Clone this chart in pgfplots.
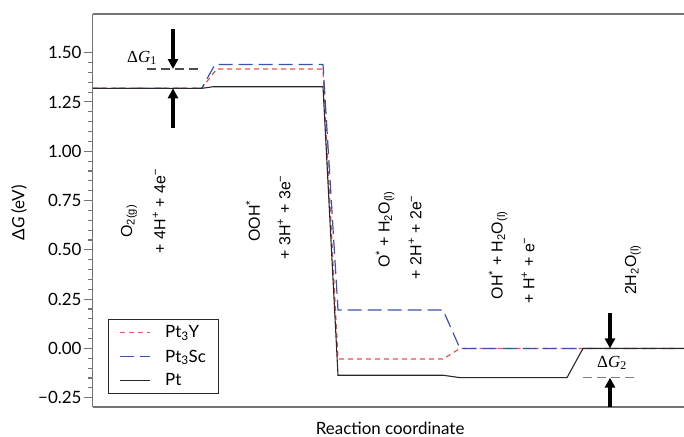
\documentclass[border=0pt]{standalone}
\usepackage{fontspec}
\setmainfont{Lato}
\newfontfamily\arial{Liberation Sans}
\newfontfamily\tnr{Liberation Serif}
\usepackage{pgfplots}
\pgfplotsset{compat=1.18}
\usetikzlibrary{arrows.meta}
\definecolor{cred}{RGB}{232,82,80}
\definecolor{cblue}{RGB}{62,80,168}
\definecolor{cblack}{RGB}{40,40,40}
\definecolor{axgray}{RGB}{115,115,115}
\newcommand{\bigf}{\fontsize{17}{20}\selectfont}
\newcommand{\catf}{\arial\fontsize{16}{19}\selectfont}
\begin{document}
\begin{tikzpicture}
\begin{axis}[
  name=ax, at={(0,0)}, anchor=south west,
  scale only axis, width=591.3bp, height=393bp,
  xmin=92.7, xmax=684, ymin=-0.297, ymax=1.696,
  clip=false,
  axis line style={draw=none},
  xtick=\empty,
  ytick={-0.25,0,0.25,0.5,0.75,1,1.25,1.5},
  yticklabels={−0.25,0.00,0.25,0.50,0.75,1.00,1.25,1.50},
  minor y tick num=4,
  tick align=outside, ytick pos=left,
  major tick length=9bp, minor tick length=4.5bp,
  every tick/.style={axgray, line width=1.1bp},
  yticklabel style={font=\bigf, inner sep=2bp},
  every axis y label/.style={at={(axis description cs:-0.1246,0.494)}, rotate=90, anchor=center, font=\bigf},
  every axis x label/.style={at={(axis description cs:0.503,-0.0534)}, anchor=center, font=\bigf},
  ylabel={Δ\textit{G} (eV)},
  xlabel={Reaction coordinate},
  legend image code/.code={\draw[#1] (0bp,0bp) -- (30bp,0bp);},
  legend style={at={(axis description cs:0.0259,0.033)}, anchor=south west,
    draw=cblack, line width=0.8bp, font=\bigf, inner xsep=11bp, inner ysep=1bp,
    nodes={inner sep=1.5bp, minimum height=24bp},
    /tikz/every odd column/.append style={column sep=13bp}},
  legend cell align=left,
]
\addplot[cred, line width=1.2bp, dash pattern=on 5bp off 4bp]
  coordinates {(92.7,1.319) (201.7,1.319) (216.7,1.417) (323,1.417) (338,-0.054) (443,-0.054) (460,0) (684,0)};
\addlegendentry{Pt\textsubscript{3}Y}
\addplot[cblue, line width=1.2bp, dash pattern=on 14bp off 6bp]
  coordinates {(92.7,1.319) (201.7,1.319) (215,1.44) (323,1.44) (338,0.195) (443,0.195) (460,0) (684,0)};
\addlegendentry{Pt\textsubscript{3}Sc}
\addplot[cblack, line width=1.1bp]
  coordinates {(92.7,1.319) (201.7,1.319) (213,1.327) (323,1.327) (338,-0.136) (443,-0.136) (460,-0.148) (567,-0.148) (583,0) (684,0)};
\addlegendentry{Pt}

% axis lines
\draw[axgray, line width=1.6bp] (rel axis cs:0,0) -- (rel axis cs:1,0);
\draw[axgray, line width=1.6bp] (rel axis cs:0,1) -- (rel axis cs:1,1);
\draw[axgray, line width=1.6bp] (rel axis cs:0,0) -- (rel axis cs:0,1);

% Delta G annotations
\draw[black!70, line width=1.1bp, dash pattern=on 9bp off 5bp] (axis cs:147,1.417) -- (axis cs:201.7,1.417);
\draw[black!50, line width=1bp, dash pattern=on 9bp off 5bp] (axis cs:583,-0.148) -- (axis cs:637,-0.148);
\draw[black, line width=3.2bp, -{Triangle[width=10bp,length=10bp]}] (axis cs:173,1.620) -- (axis cs:173,1.417);
\draw[black, line width=3.2bp, -{Triangle[width=10bp,length=10bp]}] (axis cs:173,1.118) -- (axis cs:173,1.319);
\draw[black, line width=3.2bp, -{Triangle[width=10bp,length=10bp]}] (axis cs:610,0.178) -- (axis cs:610,0);
\draw[black, line width=3.2bp, -{Triangle[width=10bp,length=10bp]}] (axis cs:610,-0.297) -- (axis cs:610,-0.148);
\node[font=\tnr\fontsize{17}{20}\selectfont] at (axis cs:142,1.473) {Δ\textit{G}\textsubscript{1}};
\node[font=\tnr\fontsize{17}{20}\selectfont, fill=white, inner sep=1bp] at (axis cs:612,-0.074) {Δ\textit{G}\textsubscript{2}};

% state labels
\node[rotate=90, font=\catf] at (axis cs:129,0.646) {O\textsubscript{2(g)}};
\node[rotate=90, font=\catf] at (axis cs:159,0.697) {+ 4H\textsuperscript{+} + 4e\textsuperscript{−}};
\node[rotate=90, font=\catf] at (axis cs:253,0.646) {OOH\textsuperscript{*}};
\node[rotate=90, font=\catf] at (axis cs:284,0.666) {+ 3H\textsuperscript{+} + 3e\textsuperscript{−}};
\node[rotate=90, font=\catf] at (axis cs:385,0.602) {O\textsuperscript{*} + H\textsubscript{2}O\textsubscript{(l)}};
\node[rotate=90, font=\catf] at (axis cs:415,0.565) {+ 2H\textsuperscript{+} + 2e\textsuperscript{−}};
\node[rotate=90, font=\catf] at (axis cs:498,0.473) {OH\textsuperscript{*} + H\textsubscript{2}O\textsubscript{(l)}};
\node[rotate=90, font=\catf] at (axis cs:528,0.397) {+ H\textsuperscript{+} + e\textsuperscript{−}};
\node[rotate=90, font=\catf] at (axis cs:633,0.398) {2H\textsubscript{2}O\textsubscript{(l)}};
\end{axis}
\pgfresetboundingbox
\useasboundingbox (-92.7bp,-30bp) rectangle (591.3bp,407bp);
\end{tikzpicture}
\end{document}
